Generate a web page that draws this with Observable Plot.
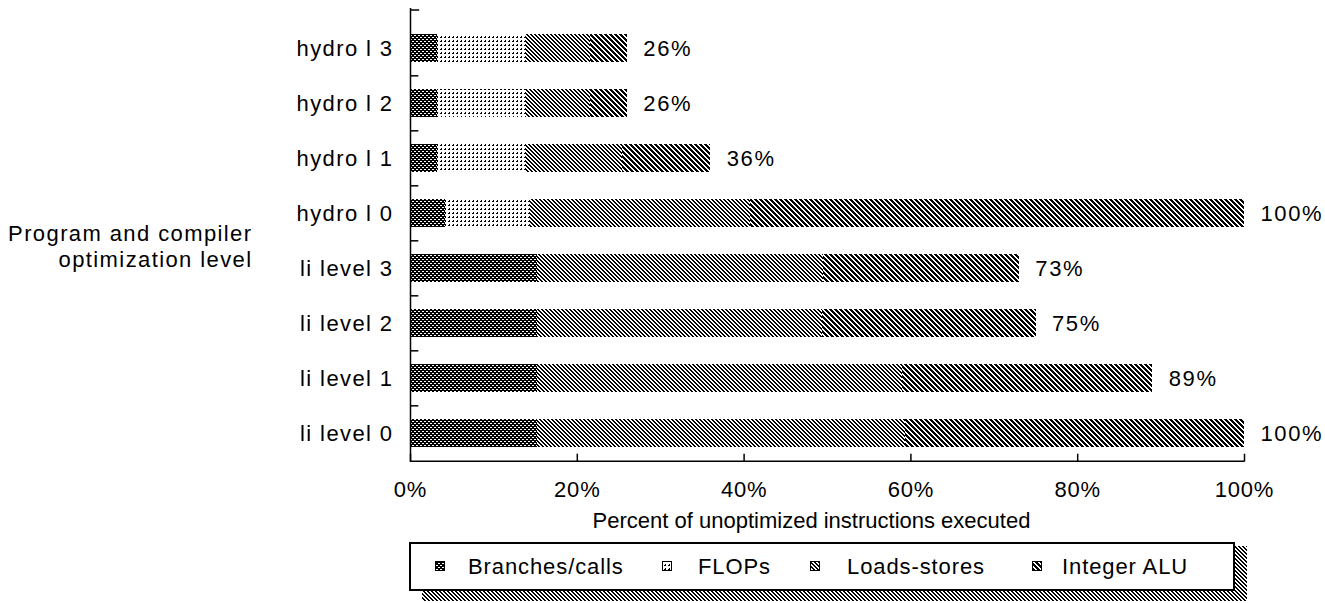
<!DOCTYPE html>
<html><head><meta charset="utf-8">
<script src="https://cdn.jsdelivr.net/npm/d3@7"></script>
<script src="https://cdn.jsdelivr.net/npm/@observablehq/plot@0.6"></script>
<style>
body{margin:0;background:#fff;font-family:"Liberation Sans",Arial,sans-serif;}
#wrap{position:relative;width:1325px;height:603px;overflow:hidden;}
#wrap svg{display:block;}
g[aria-label="y-axis tick label"] text{letter-spacing:1.4px;}
g[aria-label="x-axis tick label"] text{letter-spacing:0.8px;}
.ls-totals text{letter-spacing:1.6px;}
.ls-ytitle text, .ls-ytitle tspan{letter-spacing:1.4px;}
.legend text{letter-spacing:0.9px;}
</style></head><body><div id="wrap"></div>
<script>
// ---- data ----
const categories = ["hydro l 3","hydro l 2","hydro l 1","hydro l 0","li level 3","li level 2","li level 1","li level 0"];
const series = ["Branches/calls","FLOPs","Loads-stores","Integer ALU"];
const branchesCalls = [3.2, 3.2, 3.2, 4.2, 15.2, 15.2, 15.2, 15.2];
const flops         = [10.6, 10.6, 10.6, 10.2, 0, 0, 0, 0];
const loadsStores   = [7.8, 7.8, 11.6, 26.4, 34.3, 34.2, 43.8, 44.2];
const integerALU    = [4.4, 4.4, 10.6, 59.2, 23.5, 25.6, 30.0, 40.6];
const totals        = [26, 26, 36, 100, 73, 75, 89, 100];
const xTicks = [0, 20, 40, 60, 80, 100];
const xLabel = "Percent of unoptimized instructions executed";
const yLabel = "Program and compiler\noptimization level";

const seriesValues = [branchesCalls, flops, loadsStores, integerALU];

// ---- patterns ----
const wrap = d3.select("#wrap");
const defsSvg = wrap.append("svg").attr("width", 0).attr("height", 0)
  .style("position", "absolute").style("left", 0).style("top", 0);
const defs = defsSvg.append("defs");
function pattern(id, size, bg, fg, test) {
  const p = defs.append("pattern").attr("id", id).attr("patternUnits", "userSpaceOnUse")
    .attr("width", size).attr("height", size);
  p.append("rect").attr("width", size).attr("height", size).attr("fill", bg);
  for (let y = 0; y < size; y++) for (let x = 0; x < size; x++) {
    if (test(x, y)) p.append("rect").attr("x", x).attr("y", y).attr("width", 1).attr("height", 1)
      .attr("fill", fg).attr("shape-rendering", "crispEdges");
  }
}
const mod = (a, n) => ((a % n) + n) % n;
pattern("p0", 4, "#000", "#fff", (x, y) => (x === 1 && y === 1) || (x === 3 && y === 3) || (x === 0 && y === 1) || (x === 2 && y === 3));
pattern("p1", 4, "#fff", "#000", (x, y) => (x === 1 && y === 0) || (x === 0 && y === 1) || (x === 1 && y === 1));
pattern("p2", 4, "#fff", "#000", (x, y) => mod(x - y, 4) <= 1);
pattern("p3", 5, "#fff", "#000", (x, y) => mod(x - y, 5) <= 2);
pattern("pShadow", 4, "#fff", "#000", (x, y) => mod(x - y, 4) <= 1);
const patternUrl = {};
series.forEach((s, j) => patternUrl[s] = `url(#p${j})`);

// ---- chart ----
const W = 1325, H = 532;
const mTop = 18.8, mBottom = H - 461.7, mLeft = 410, mRight = 81;
const plotH = H - mTop - mBottom;
const step = plotH / categories.length;

const rows = categories.flatMap((c, i) => series.map((s, j) => ({cat: c, series: s, value: seriesValues[j][i]})));
const totalRows = categories.map((c, i) => ({cat: c, total: totals[i]}));

const chart = Plot.plot({
  width: W, height: H,
  marginTop: mTop, marginBottom: mBottom, marginLeft: mLeft, marginRight: mRight,
  style: {fontFamily: "'Liberation Sans', Arial, sans-serif", fontSize: "22px", color: "#000", background: "white", overflow: "visible"},
  x: {domain: [0, 100], axis: null},
  y: {domain: categories, paddingInner: 0.5, paddingOuter: 0.25, axis: null},
  color: {type: "identity"},
  marks: [
    Plot.barX(rows, Plot.stackX({x: "value", y: "cat", fill: d => patternUrl[d.series], shapeRendering: "crispEdges"})),
    Plot.ruleX([0], {insetTop: -10.8, stroke: "#000", strokeWidth: 1.5}),
    Plot.ruleY(categories.slice(1), {y: d => d, x1: 0, x2: 1, dy: -step / 2, stroke: "#000", strokeWidth: 1.5}),
    Plot.ruleY([categories[0]], {y: d => d, x1: 0, x2: 1.1, dy: -step / 2 - 10.8, stroke: "#000", strokeWidth: 1.5}),
    Plot.ruleY([categories[categories.length - 1]], {y: d => d, x1: 0, x2: 100, dy: step / 2, stroke: "#000", strokeWidth: 1.5}),
    Plot.ruleX(xTicks, {x: d => d, insetTop: plotH - 8, stroke: "#000", strokeWidth: 1.5}),
    Plot.axisX(xTicks, {tickSize: 0, tickPadding: 19, tickFormat: d => d + "%", label: null}),
    Plot.axisY({tickSize: 0, tickPadding: 17, label: null}),
    Plot.text(totalRows, {x: "total", y: "cat", text: d => d.total + "%", textAnchor: "start", dx: 16, fill: "#000"}),
    Plot.text([xLabel], {frameAnchor: "bottom", text: d => d, dx: -16, dy: 66, fill: "#000"}),
    Plot.text([yLabel], {frameAnchor: "left", text: d => d, dx: -158, dy: 5, textAnchor: "end", lineHeight: 1.18, fill: "#000"})
  ]
});
// tag the three text marks (totals, x title, y title) for letter-spacing styles
const textGroups = d3.select(chart).selectAll("g[aria-label='text']").nodes();
if (textGroups[0]) d3.select(textGroups[0]).classed("ls-totals", true);
if (textGroups[2]) d3.select(textGroups[2]).classed("ls-ytitle", true);
wrap.node().appendChild(chart);

// ---- legend (below the chart) ----
const legendH = 603 - H;
const lg = wrap.append("svg").attr("class", "legend").attr("width", W).attr("height", legendH)
  .style("font-family", "'Liberation Sans', Arial, sans-serif").style("font-size", "22px");
const boxX = 410, boxY = 543 - H, boxW = 824, boxH = 47;
lg.append("rect").attr("x", boxX + 12).attr("y", boxY + 3).attr("width", boxW + 1).attr("height", boxH + 8)
  .attr("fill", "url(#pShadow)").attr("shape-rendering", "crispEdges");
lg.append("rect").attr("x", boxX).attr("y", boxY).attr("width", boxW).attr("height", boxH)
  .attr("fill", "#fff").attr("stroke", "#000").attr("stroke-width", 1.5).attr("shape-rendering", "crispEdges");
const swatchX = [440, 667, 815, 1037];
const textX = [468, 698, 847, 1062];
const cy = 566 - H;
series.forEach((s, j) => {
  lg.append("rect").attr("x", swatchX[j] - 4.5).attr("y", cy - 4.5).attr("width", 9).attr("height", 9)
    .attr("fill", `url(#p${j})`).attr("stroke", "#000").attr("stroke-width", 1).attr("shape-rendering", "crispEdges");
  lg.append("text").attr("x", textX[j]).attr("y", cy).attr("dy", "0.35em").text(s);
});
</script>
</body></html>
